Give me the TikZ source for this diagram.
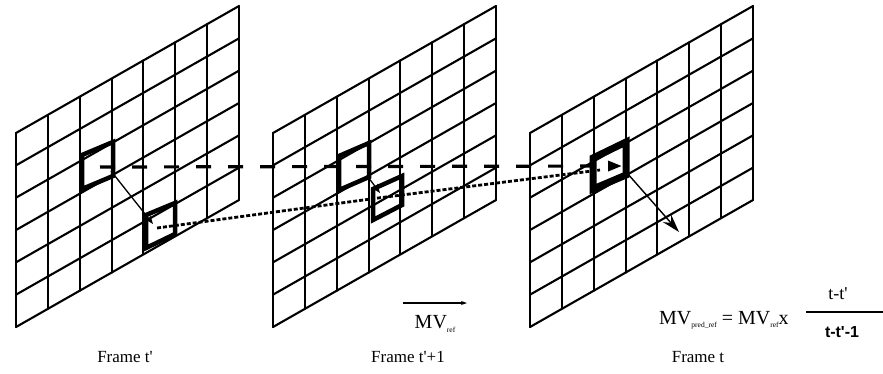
\documentclass[tikz,border=0pt]{standalone}
\usepackage{fontspec}
\setmainfont{Liberation Serif}
\setsansfont{Liberation Sans}
\usetikzlibrary{arrows.meta}
\tikzstyle{gridline} = [line width=2.1pt, line cap=round, line join=round]
\tikzstyle{block}    = [line width=4.5pt, line join=miter]
\tikzstyle{mvarrow}  = [-{Stealth[length=9pt, width=7pt]}, line width=1.3pt]
\tikzstyle{refline}  = [line width=3.2pt, dash pattern=on 15pt off 17pt]
\tikzstyle{predline} = [line width=2.8pt, dash pattern=on 4pt off 2pt]
\tikzstyle{label}    = [font=\fontsize{17}{20}\selectfont, inner sep=0pt]
\newcommand{\prm}{\textquotesingle}
\newcommand{\lowsub}[1]{\raisebox{-0.35ex}{\fontsize{7.5}{8}\selectfont #1}}

\begin{document}
\begin{tikzpicture}[x=1pt, y=-1pt]
    \useasboundingbox (0,0) rectangle (883,373);
    % the three frames
    \foreach \ox in {16, 273, 530} {
        \foreach \i in {0,...,7}
            \draw[gridline] ({\ox+\i*223/7}, {133-\i*127/7}) -- ++(0,194);
        \foreach \j in {0,...,6}
            \draw[gridline] (\ox, {133+\j*194/6}) -- ++(223,-127);
    }

    % blocks
    \draw[block] (82,155) -- (113,142) -- (113,176) -- (82,189) -- cycle;
    \draw[block] (146,215) -- (175,203) -- (175,234) -- (146,248) -- cycle;
    \draw[block] (339,156) -- (369,143) -- (369,177) -- (339,190) -- cycle;
    \draw[block] (373,189) -- (402,176) -- (402,205) -- (373,220) -- cycle;
    \draw[block, line width=7pt] (593,158) -- (626,142) -- (626,175) -- (593,189) -- cycle;

    \coordinate (refA) at (111,171);
    \coordinate (curA) at (153,224);
    \coordinate (refB) at (368,177);
    \coordinate (curB) at (380,193);
    \coordinate (refC) at (627,173);
    \coordinate (curC) at (679,232);
    \coordinate (dashS) at (100,167);
    \coordinate (dashE) at (622,166);
    \coordinate (dotS) at (157,228);
    \coordinate (dotM) at (378,198);
    \coordinate (dotE) at (600,170);

    \draw[mvarrow] (refA) -- (curA);
    \draw[mvarrow] (refB) -- (curB);
    \draw[-{Stealth[length=18pt, width=11pt]}, line width=1.4pt] (refC) -- (curC);
    \draw[refline, -{Triangle[length=14pt, width=10pt]}] (dashS) -- (dashE);
    \draw[predline] (dotS) -- (dotM) -- (dotE);

    % captions
    \node[label] (capA) at (125,357) {Frame t\prm};
    \node[label] (capB) at (408,357) {Frame t\prm+1};
    \node[label] (capC) at (698,357) {Frame t};

    % motion vector and formula
    \coordinate (mvS) at (403,303);
    \coordinate (mvE) at (467,303);
    \draw[-{Stealth[length=6pt, width=4pt]}, line width=1.6pt] (mvS) -- (mvE);
    \node[label, font=\fontsize{20}{22}\selectfont] (mvref) at (435,324) {MV\lowsub{ref}};
    \node[label, font=\fontsize{20}{22}\selectfont, anchor=west] (formula) at (659,320)
        {MV\lowsub{pred\_ref} = MV\lowsub{ref}x};
    \coordinate (fracS) at (806,312);
    \coordinate (fracE) at (883,312);
    \draw[line width=2.6pt] (fracS) -- (fracE);
    \node[label, font=\fontsize{18}{20}\selectfont] (num) at (838,294) {t-t\prm};
    \node[label, font=\fontsize{16}{20}\sffamily\bfseries] (den) at (842,332) {t-t\prm-1};
\end{tikzpicture}
\end{document}
